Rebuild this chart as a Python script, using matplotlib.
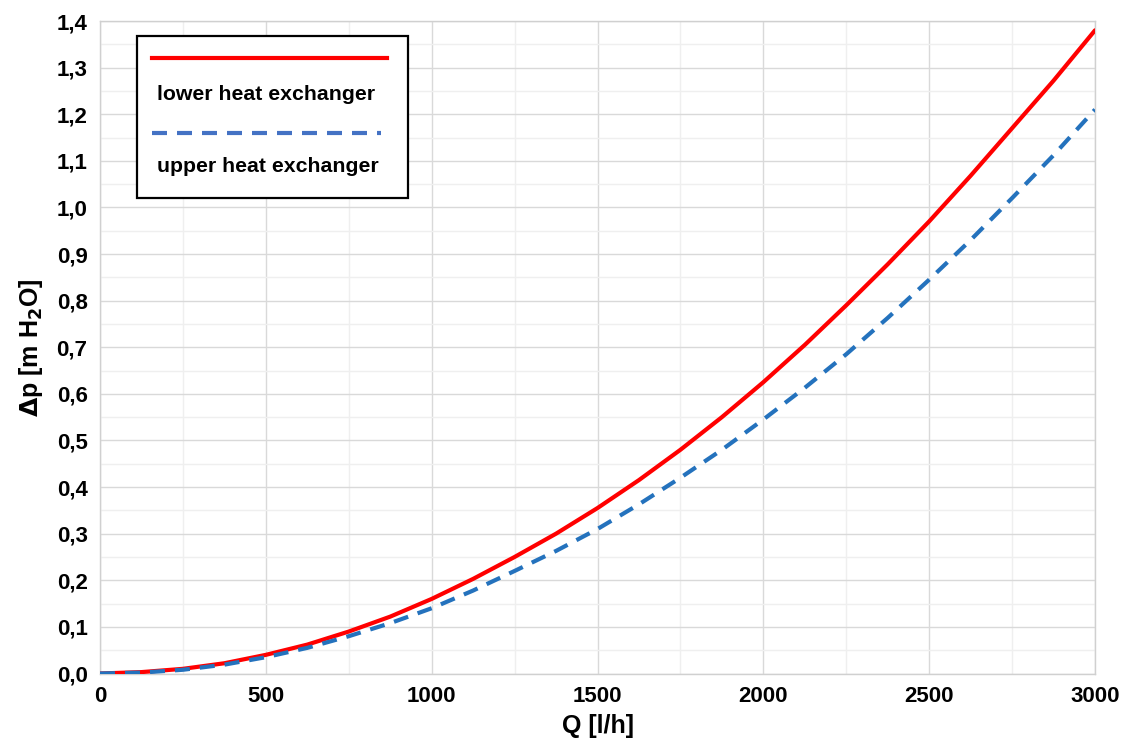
import matplotlib
matplotlib.use('Agg')
import matplotlib.pyplot as plt
from matplotlib.lines import Line2D
from matplotlib.patches import Rectangle
from matplotlib.ticker import MultipleLocator, FuncFormatter

plt.rcParams['font.family'] = ['Liberation Sans', 'DejaVu Sans']
plt.rcParams['font.weight'] = 'bold'

# flow rate [l/h]
flow = [0, 125, 250, 375, 500, 625, 750, 875, 1000, 1125, 1250, 1375, 1500,
        1625, 1750, 1875, 2000, 2125, 2250, 2375, 2500, 2625, 2750, 2875, 3000]
# pressure drop [m H2O]
dp_lower = [0.0, 0.003, 0.010, 0.022, 0.040, 0.062, 0.090, 0.122, 0.160, 0.203,
            0.250, 0.300, 0.355, 0.415, 0.480, 0.550, 0.625, 0.705, 0.790, 0.878,
            0.970, 1.068, 1.170, 1.272, 1.380]
dp_upper = [0.0, 0.002, 0.008, 0.019, 0.035, 0.055, 0.080, 0.108, 0.140, 0.178,
            0.220, 0.263, 0.310, 0.363, 0.420, 0.480, 0.545, 0.613, 0.685, 0.763,
            0.845, 0.930, 1.020, 1.112, 1.210]

labels = ['lower heat exchanger', 'upper heat exchanger']
RED = '#ff0000'
BLUE = '#2472bd'
BLUE_LEG = '#4472c4'

fig = plt.figure(figsize=(11.32, 7.54), dpi=100)
ax = fig.add_axes([100 / 1132, 1 - 673.5 / 754, 995 / 1132, 652.5 / 754])

ax.plot(flow, dp_lower, color=RED, lw=3.0, solid_capstyle='round', zorder=3)
ax.plot(flow, dp_upper, color=BLUE, lw=3.0, dashes=(3.6, 2.4), zorder=3)

ax.set_xlim(0, 3000)
ax.set_ylim(0, 1.4)
ax.xaxis.set_major_locator(MultipleLocator(500))
ax.xaxis.set_minor_locator(MultipleLocator(250))
ax.yaxis.set_major_locator(MultipleLocator(0.1))
ax.yaxis.set_minor_locator(MultipleLocator(0.05))
ax.yaxis.set_major_formatter(FuncFormatter(lambda v, p: f'{v:.1f}'.replace('.', ',')))
ax.grid(which='major', color='#d9d9d9', lw=1.0)
ax.grid(which='minor', color='#efefef', lw=1.0)
ax.set_axisbelow(True)
ax.tick_params(which='both', length=0, labelsize=16, pad=9)
for s in ax.spines.values():
    s.set_color('#d0d0d0')
    s.set_linewidth(1.0)

ax.set_xlabel('Q [l/h]', fontsize=18, fontweight='bold', labelpad=5)
ax.set_ylabel(r'$\mathbf{\Delta}$p [m H$_\mathbf{2}$O]', fontsize=18, fontweight='bold', labelpad=8)

# Excel-style legend box
ax.add_patch(Rectangle((0.037, 0.729), 0.273, 0.248, transform=ax.transAxes,
                       facecolor='white', edgecolor='black', lw=1.6, zorder=5))
ax.add_line(Line2D([0.052, 0.288], [0.944, 0.944], transform=ax.transAxes,
                   color=RED, lw=3.0, zorder=6))
ax.text(0.057, 0.887, labels[0], transform=ax.transAxes, fontsize=15.3,
        fontweight='bold', va='center', zorder=6)
ax.add_line(Line2D([0.052, 0.282], [0.828, 0.828], transform=ax.transAxes,
                   color=BLUE_LEG, lw=3.0, dashes=(3.6, 2.4), zorder=6))
ax.text(0.057, 0.777, labels[1], transform=ax.transAxes, fontsize=15.3,
        fontweight='bold', va='center', zorder=6)

fig.savefig('out.png', dpi=100)
